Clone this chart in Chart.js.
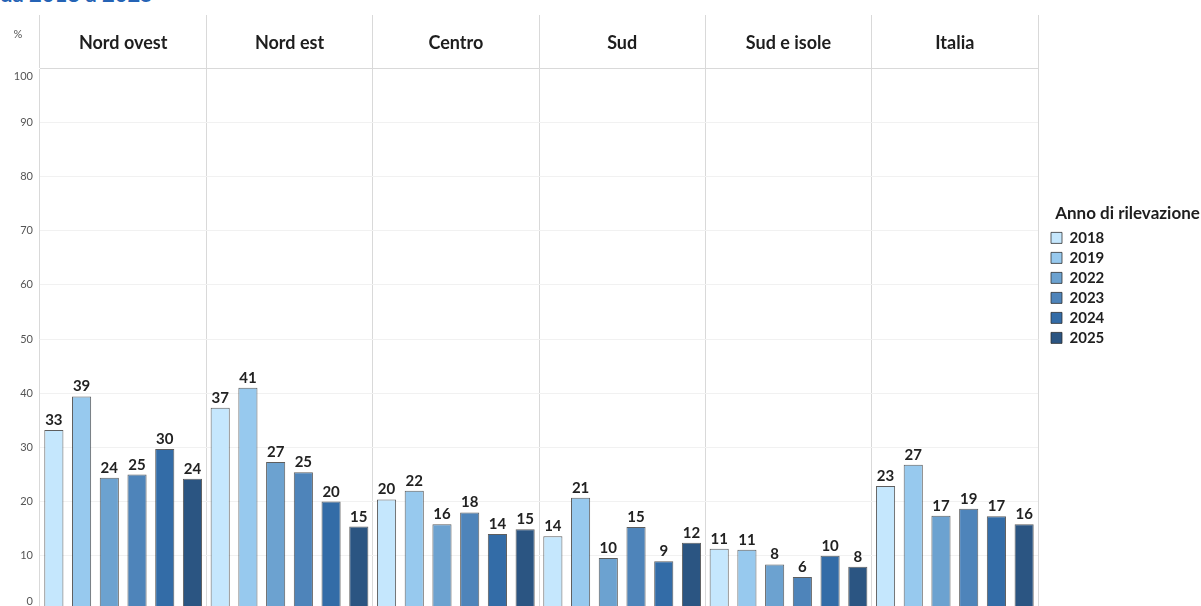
<!DOCTYPE html>
<html>
<head>
<meta charset="utf-8">
<script src="https://cdn.jsdelivr.net/npm/chart.js@4.4.1/dist/chart.umd.min.js"></script>
<style>
  html, body { margin: 0; padding: 0; background: #fff; }
  #wrap { position: relative; width: 1201px; height: 606px; overflow: hidden; }
  #cut { position: absolute; left: 0; top: -17px; font: bold 22px/22px Lato, sans-serif; color: #2563b5; white-space: nowrap; }
  canvas { position: absolute; left: 0; top: 0; }
</style>
</head>
<body>
<div id="wrap">
  <div id="cut">da 2018 a 2025</div>
  <canvas id="c" width="1201" height="622"></canvas>
</div>
<script>
const regions = ['Nord ovest', 'Nord est', 'Centro', 'Sud', 'Sud e isole', 'Italia'];
const years = ['2018', '2019', '2022', '2023', '2024', '2025'];
const v2018 = [33.2, 37.3, 20.4, 13.6, 11.3, 22.9];
const v2019 = [39.4, 41.0, 22.0, 20.7, 11.1, 26.8];
const v2022 = [24.4, 27.3, 15.8, 9.6, 8.4, 17.4];
const v2023 = [25.0, 25.4, 18.0, 15.3, 6.1, 18.7];
const v2024 = [29.7, 20.0, 14.0, 9.0, 10.0, 17.3];
const v2025 = [24.2, 15.4, 14.9, 12.4, 8.0, 15.8];
const yTickLabels = ['0', '10', '20', '30', '40', '50', '60', '70', '80', '90', '100'];
const colors = ['#c5e7fd', '#97c9ee', '#6ca2d0', '#4e84ba', '#336ca7', '#2b5582'];
const seriesValues = [v2018, v2019, v2022, v2023, v2024, v2025];

const FONT = 'Lato, "Open Sans", sans-serif';

const textPlugin = {
  id: 'texts',
  afterDatasetsDraw(chart) {
    const ctx = chart.ctx;
    const xs = chart.scales.x, ys = chart.scales.y;
    ctx.save();
    // header region names
    ctx.font = 'bold 18px ' + FONT;
    ctx.fillStyle = '#1e1e1e';
    ctx.textAlign = 'center';
    ctx.textBaseline = 'middle';
    regions.forEach((r, i) => ctx.fillText(r, xs.getPixelForValue(i), 43));
    // y tick labels
    ctx.font = '11px ' + FONT;
    ctx.fillStyle = '#555';
    ctx.textAlign = 'right';
    yTickLabels.forEach(t => {
      let py = ys.getPixelForValue(Number(t));
      py = Math.min(Math.max(py, 76), 601);
      ctx.fillText(t, 33, py);
    });
    ctx.textAlign = 'center';
    ctx.fillText('%', 18, 34);
    // data labels
    ctx.font = 'bold 15px ' + FONT;
    ctx.fillStyle = '#222';
    ctx.textBaseline = 'alphabetic';
    chart.data.datasets.forEach((ds, di) => {
      const meta = chart.getDatasetMeta(di);
      meta.data.forEach((bar, i) => {
        ctx.fillText(String(Math.round(ds.data[i])), bar.x, bar.y - 5);
      });
    });
    ctx.restore();
  }
};

const legendWidthPlugin = {
  id: 'legendWidth',
  beforeLayout(chart) {
    const lg = chart.legend;
    if (lg && !lg._patched) {
      const f = lg.fit;
      lg.fit = function () { f.call(this); this.width = 163; };
      lg._patched = true;
    }
  },
  afterLayout(chart) {
    const lg = chart.legend;
    if (lg) { lg.left += 8; lg.right += 8; }
  }
};

new Chart(document.getElementById('c'), {
  type: 'bar',
  data: {
    labels: regions,
    datasets: years.map((y, i) => ({
      label: y,
      data: seriesValues[i],
      backgroundColor: colors[i],
      borderColor: 'rgba(40,40,40,0.75)',
      borderWidth: 1,
      categoryPercentage: 1.0,
      barPercentage: 0.69
    }))
  },
  options: {
    responsive: false,
    devicePixelRatio: 1,
    animation: false,
    layout: { padding: { top: 15, left: 40, bottom: 12, right: 0 } },
    scales: {
      x: {
        position: 'top',
        grid: { offset: true, color: '#d9d9d9', tickLength: 53, drawTicks: true, drawOnChartArea: true, tickColor: '#d9d9d9' },
        border: { display: true, color: '#d9d9d9' },
        ticks: { display: false }
      },
      y: {
        min: 0, max: 100,
        ticks: { display: false, stepSize: 10 },
        grid: { color: '#f1f1f1', drawTicks: false },
        border: { display: false }
      }
    },
    plugins: {
      tooltip: { enabled: false },
      legend: {
        position: 'right',
        align: 'start',
        title: {
          display: true,
          text: 'Anno di rilevazione',
          align: 'start',
          color: '#1e1e1e',
          font: { family: FONT, size: 17, weight: 'bold' },
          padding: { top: 190, bottom: 0 }
        },
        labels: {
          boxWidth: 11,
          boxHeight: 11,
          padding: 5,
          color: '#1e1e1e',
          font: { family: FONT, size: 15, weight: 'bold' }
        }
      }
    }
  },
  plugins: [textPlugin, legendWidthPlugin]
});
</script>
</body>
</html>
